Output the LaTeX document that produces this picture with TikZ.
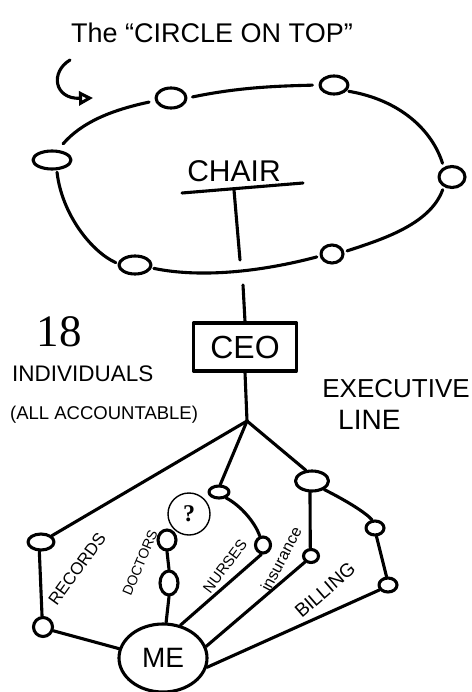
\documentclass[tikz,border=0pt]{standalone}
\usepackage{fontspec}
\setmainfont{Liberation Sans}
\newfontfamily\seriffont{Liberation Serif}
\usetikzlibrary{shapes.geometric,arrows.meta}
\tikzset{
  ink/.style={line width=3.1pt, line cap=round, line join=round},
  dot/.style 2 args={ellipse, draw, ink, inner sep=0pt, minimum width=#1, minimum height=#2},
  hand/.style={font=\fontsize{#1}{#1}\selectfont, inner sep=0pt},
}
\begin{document}
\begin{tikzpicture}[x=1pt,y=-1pt]
\fill[white] (0,0) rectangle (471,692);
\useasboundingbox (0,0) rectangle (471,692);

% title and arrow
\node[hand=27] (title) at (212,33) {The “CIRCLE ON TOP”};
\coordinate (a0) at (70,60);
\coordinate (a1) at (93,98);
\draw[ink, -{Triangle[open,length=14pt,width=14pt]}] (a0) .. controls (50,72) and (54,99) .. (a1);

% ring of the circle on top
\node[dot={30}{20}] (n1) at (171,98) {};
\node[dot={28}{18}] (n2) at (334,85) {};
\node[dot={26}{21}] (n3) at (452,177) {};
\node[dot={22}{18}] (n4) at (332,254) {};
\node[dot={32}{18}] (n5) at (135,265) {};
\node[dot={38}{18}] (n6) at (52,160) {};
\draw[ink, shorten <=5pt, shorten >=6pt] (n1.east) .. controls (240,87) and (280,86) .. (n2.west);
\draw[ink, shorten <=2pt, shorten >=4pt] (n2.-25) .. controls (400,100) and (432,130) .. (n3.130);
\draw[ink, shorten <=3pt, shorten >=3pt] (n3.-130) .. controls (430,225) and (380,240) .. (n4.10);
\draw[ink, shorten <=3pt, shorten >=2pt] (n4.190) .. controls (260,272) and (200,278) .. (n5.-10);
\draw[ink, shorten <=2pt, shorten >=2pt] (n5.175) .. controls (92,252) and (62,215) .. (n6.-65);
\draw[ink, shorten <=8pt, shorten >=6pt] (n6.60) .. controls (82,122) and (112,110) .. (n1.190);

% chair
\node[hand=30] (chair) at (234,171) {CHAIR};
\coordinate (u1) at (182,193);
\coordinate (u2) at (303,183);
\draw[ink] (u1) -- (u2);
\coordinate (c1) at (234,190);
\coordinate (c2) at (240,260);
\draw[ink] (c1) -- (c2);

% CEO
\coordinate (rb) at (243,285);
\node[draw, ink, minimum width=103pt, minimum height=48pt, inner sep=0pt,
      font=\fontsize{32}{32}\selectfont] (ceo) at (245,347) {CEO};
\draw[ink] (rb) -- (ceo.north);
\coordinate (j) at (247,421);
\draw[ink] (ceo.south) -- (j);

% side texts
\node[font=\seriffont\fontsize{45}{45}\selectfont, inner sep=0pt] (n18) at (59,332) {18};
\node[hand=22.5, anchor=west] (indiv) at (12,374) {INDIVIDUALS};
\node[hand=18.5, anchor=west] (acc) at (10,415) {(ALL ACCOUNTABLE)};
\node[hand=26] (exec) at (396,389) {EXECUTIVE};
\node[hand=28, anchor=west] (line) at (338,420) {LINE};

% executive line nodes
\node[dot={26}{16}] (rec1) at (41,542) {};
\node[dot={19}{19}] (rec2) at (43,627) {};
\node[dot={18}{20}] (doc1) at (167,540) {};
\node[dot={18}{24}] (doc2) at (169,583) {};
\node[circle, draw, line width=1.4pt, minimum size=42pt, inner sep=0pt,
      font=\seriffont\bfseries\fontsize{24}{24}\selectfont] (q) at (189,514) {?};
\node[dot={20}{12}] (nur1) at (219,492) {};
\node[dot={15}{16}] (nur2) at (263,545) {};
\node[dot={33}{20}] (big) at (312,481) {};
\node[dot={15}{13}] (ins) at (311,556) {};
\node[dot={18}{14}] (bil1) at (375,528) {};
\node[dot={18}{14}] (bil2) at (388,585) {};
\node[dot={88}{68}, font=\fontsize{28}{28}\selectfont] (me) at (163,658) {ME};

% connectors
\draw[ink] (j) -- (rec1.30);
\draw[ink] (j) -- (nur1.80);
\draw[ink] (j) -- (big.120);
\draw[ink] (big.-35) .. controls (345,500) and (365,512) .. (bil1.110);
\draw[ink] (bil1.-80) -- (bil2.100);
\draw[ink] (bil2.-150) -- (me.-12);
\draw[ink] (big.-100) -- (ins.95);
\draw[ink] (ins.-135) -- (me.15);
\draw[ink] (nur1.-40) .. controls (240,505) and (255,522) .. (nur2.110);
\draw[ink] (nur2.-100) -- (me.62);
\draw[ink] (doc1.-90) -- (doc2.90);
\draw[ink] (doc2.-90) -- (me.85);
\draw[ink] (rec1.-100) -- (rec2.95);
\draw[ink] (rec2.-20) -- (me.168);

% branch labels
\node[hand=17, rotate=54] (lrec) at (77,569) {RECORDS};
\node[hand=14, rotate=67] (ldoc) at (140,563) {DOCTORS};
\node[hand=15, rotate=53] (lnur) at (225,566) {NURSES};
\node[hand=16, rotate=62] (lins) at (281,559) {insurance};
\node[hand=19, rotate=41] (lbil) at (325,590) {BILLING};
\end{tikzpicture}
\end{document}
